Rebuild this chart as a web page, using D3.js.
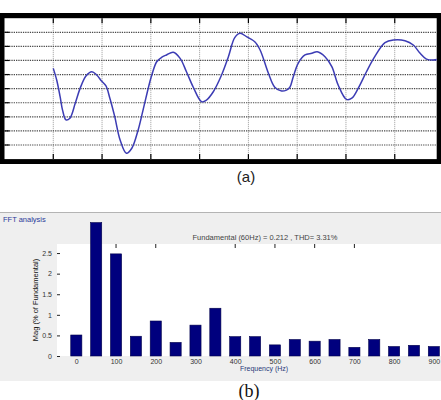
<!DOCTYPE html>
<html>
<head>
<meta charset="utf-8">
<script src="https://cdn.jsdelivr.net/npm/d3@7"></script>
<style>
  body { margin: 0; background: #fff; }
  svg { display: block; }
</style>
</head>
<body>
<div id="vis"></div>
<script>
// --- panel (a): waveform, time in ms, amplitude in divisions
const waveTime = [10.0, 10.7, 11.4, 11.9, 12.6, 13.4, 14.5, 15.5, 16.7, 17.9, 18.9, 19.9, 20.8,
  21.6, 22.6, 23.7, 25.0, 26.1, 27.4, 28.4, 29.8, 30.2, 31.2, 32.2, 33.2, 34.6, 36.0, 37.3,
  38.7, 40.4, 41.4, 42.8, 44.5, 45.9, 47.2, 48.3, 49.6, 51.3, 52.4, 54.1, 55.4, 56.8, 57.8,
  58.5, 59.2, 60.2, 61.6, 63.0, 64.1, 65.7, 67.1, 68.4, 70.1, 71.2, 72.5, 74.2, 75.9, 78.0,
  79.7, 82.1, 83.8, 85.1, 86.5, 87.9, 89.2];
const waveValue = [1.44, 0.61, -0.57, -1.52, -2.22, -2.10, -1.04, 0.02, 0.90, 1.20, 0.97, 0.54, 0.19,
  -0.68, -1.99, -3.64, -4.59, -4.23, -2.93, -1.52, 0.49, 0.97, 1.91, 2.22, 2.39, 2.58, 2.15, 1.20,
  0.10, -0.93, -0.81, -0.22, 0.97, 2.27, 3.62, 3.93, 3.69, 3.33, 2.74, 1.09, 0.10, -0.17, -0.10,
  0.10, 0.85, 1.80, 2.39, 2.51, 2.62, 2.27, 1.56, 0.26, -0.76, -0.68, 0.02, 1.20, 2.27, 3.26,
  3.45, 3.40, 3.10, 2.55, 2.10, 2.03, 2.10];
const timeGrid = [10, 20, 30, 40, 50, 60, 70, 80];
const ampGrid = [-4, -3, -2, -1, 0, 1, 2, 3, 4];

// --- panel (b): FFT bars
const freqs = [0, 50, 100, 150, 200, 250, 300, 350, 400, 450, 500, 550, 600, 650, 700, 750, 800, 850, 900];
const mags = [0.51, 3.24, 2.48, 0.48, 0.85, 0.33, 0.75, 1.16, 0.47, 0.47, 0.27, 0.40, 0.36, 0.40, 0.21, 0.40, 0.23, 0.26, 0.23];
const freqTicks = [0, 100, 200, 300, 400, 500, 600, 700, 800, 900];
const topTicks = [100, 200, 400, 500, 600, 700];
const magTicks = [0, 0.5, 1, 1.5, 2, 2.5];

const WIDTH = 441, HEIGHT = 400;

const svg = d3.select("#vis").append("svg")
  .attr("width", WIDTH).attr("height", HEIGHT);

// ================= panel (a) =================
const A = {left: 4.5, right: 436.7, top: 18.2, bottom: 159.1};

const X_A = d3.scaleLinear().domain([0, 88.6]).range([A.left, A.right]);
const Y_A = d3.scaleLinear().domain([-5, 5]).range([A.bottom, A.top]);

// thick black frame
svg.append("rect").attr("x", 0).attr("y", 13).attr("width", WIDTH).attr("height", 151).attr("fill", "#000");
svg.append("rect").attr("x", A.left).attr("y", A.top)
  .attr("width", A.right - A.left).attr("height", A.bottom - A.top).attr("fill", "#fff");

svg.append("defs").append("clipPath").attr("id", "clipA")
  .append("rect").attr("x", A.left).attr("y", A.top)
  .attr("width", A.right - A.left).attr("height", A.bottom - A.top);

// vertical grid
svg.append("g").selectAll("line").data(timeGrid).enter().append("line")
  .attr("x1", d => X_A(d)).attr("x2", d => X_A(d))
  .attr("y1", A.top).attr("y2", A.bottom)
  .attr("stroke", "#9a9a9a").attr("stroke-width", 1).attr("stroke-dasharray", "1,1");

// horizontal grid
svg.append("g").selectAll("line").data(ampGrid).enter().append("line")
  .attr("x1", A.left).attr("x2", A.right)
  .attr("y1", d => Y_A(d)).attr("y2", d => Y_A(d))
  .attr("stroke", "#4a4a4a").attr("stroke-width", 1.2).attr("stroke-dasharray", "1.3,1");

// tick marks on frame
svg.append("g").selectAll("line").data(ampGrid).enter().append("line")
  .attr("x1", A.left).attr("x2", A.left + 5)
  .attr("y1", d => Y_A(d)).attr("y2", d => Y_A(d))
  .attr("stroke", "#000").attr("stroke-width", 1.2);
svg.append("g").selectAll("line").data(timeGrid).enter().append("line")
  .attr("x1", d => X_A(d)).attr("x2", d => X_A(d))
  .attr("y1", A.bottom - 5).attr("y2", A.bottom)
  .attr("stroke", "#000").attr("stroke-width", 1.2);
svg.append("g").selectAll("line").data(timeGrid).enter().append("line")
  .attr("x1", d => X_A(d)).attr("x2", d => X_A(d))
  .attr("y1", A.top).attr("y2", A.top + 5)
  .attr("stroke", "#000").attr("stroke-width", 1.2);

// waveform
const wave = d3.zip(waveTime, waveValue);
svg.append("path")
  .datum(wave)
  .attr("clip-path", "url(#clipA)")
  .attr("d", d3.line().x(d => X_A(d[0])).y(d => Y_A(d[1])).curve(d3.curveCatmullRom))
  .attr("fill", "none").attr("stroke", "#3c3cb4").attr("stroke-width", 1.5);

svg.append("text").attr("x", 246).attr("y", 182)
  .attr("text-anchor", "middle")
  .attr("font-family", "Liberation Sans, Arial, sans-serif").attr("font-size", 15)
  .attr("fill", "#222").text("(a)");

// ================= panel (b) =================
const B = {left: 57, right: 441, top: 244, bottom: 356};

svg.append("rect").attr("x", 0).attr("y", 212.5).attr("width", WIDTH).attr("height", 168.5).attr("fill", "#efefef");
svg.append("line").attr("x1", 0).attr("x2", WIDTH).attr("y1", 212.5).attr("y2", 212.5)
  .attr("stroke", "#b4b4b4").attr("stroke-width", 1);
svg.append("rect").attr("x", B.left).attr("y", B.top)
  .attr("width", B.right - B.left).attr("height", B.bottom - B.top).attr("fill", "#fff");

const X_B = d3.scaleLinear().domain([-48.6, 918]).range([B.left, B.right]);
const Y_B = d3.scaleLinear().domain([0, 2.72]).range([B.bottom, B.top]);
const BAR_HZ = 28;

svg.append("text").attr("x", 3).attr("y", 222)
  .attr("font-family", "Liberation Sans, Arial, sans-serif").attr("font-size", 7.5)
  .attr("fill", "#2a3a9a").text("FFT analysis");

svg.append("text").attr("x", 265).attr("y", 240)
  .attr("text-anchor", "middle")
  .attr("font-family", "Liberation Sans, Arial, sans-serif").attr("font-size", 7.5)
  .attr("fill", "#444").text("Fundamental (60Hz) = 0.212 , THD= 3.31%");

// bars
svg.append("g").selectAll("rect").data(freqs).enter().append("rect")
  .attr("x", d => X_B(d - BAR_HZ / 2))
  .attr("width", X_B(BAR_HZ) - X_B(0))
  .attr("y", (d, i) => Y_B(mags[i]))
  .attr("height", (d, i) => Y_B(0) - Y_B(mags[i]))
  .attr("fill", "#00007e").attr("stroke", "#00004a").attr("stroke-width", 0.6);

// x axis
const xAxis = svg.append("g")
  .attr("transform", "translate(0," + B.bottom + ")")
  .call(d3.axisBottom(X_B).tickValues(freqTicks).tickSize(0).tickPadding(3));
xAxis.select(".domain").remove();
xAxis.selectAll("text").attr("font-family", "Liberation Sans, Arial, sans-serif")
  .attr("font-size", 7).attr("fill", "#333");

// small ticks hanging from the top of the axes
svg.append("g").selectAll("line").data(topTicks).enter().append("line")
  .attr("x1", d => X_B(d)).attr("x2", d => X_B(d))
  .attr("y1", B.top).attr("y2", B.top + 4)
  .attr("stroke", "#222").attr("stroke-width", 1);

// y axis
const yAxis = svg.append("g")
  .attr("transform", "translate(" + B.left + ",0)")
  .call(d3.axisRight(Y_B).tickValues(magTicks).tickSize(3).tickFormat(d3.format("")));
yAxis.select(".domain").remove();
yAxis.selectAll("line").attr("stroke", "#222");
yAxis.selectAll("text").attr("x", -5).attr("text-anchor", "end")
  .attr("font-family", "Liberation Sans, Arial, sans-serif")
  .attr("font-size", 7).attr("fill", "#333");

svg.append("text")
  .attr("transform", "translate(38," + (B.top + B.bottom) / 2 + ") rotate(-90)")
  .attr("text-anchor", "middle")
  .attr("font-family", "Liberation Sans, Arial, sans-serif").attr("font-size", 7.5)
  .attr("fill", "#111").text("Mag (% of Fundamental)");

svg.append("text").attr("x", 264).attr("y", 371)
  .attr("text-anchor", "middle")
  .attr("font-family", "Liberation Sans, Arial, sans-serif").attr("font-size", 7)
  .attr("fill", "#2a3a7a").text("Frequency (Hz)");

svg.append("text").attr("x", 249).attr("y", 397)
  .attr("text-anchor", "middle")
  .attr("font-family", "Liberation Serif, Times New Roman, serif").attr("font-size", 18)
  .attr("fill", "#111").text("(b)");
</script>
</body>
</html>
